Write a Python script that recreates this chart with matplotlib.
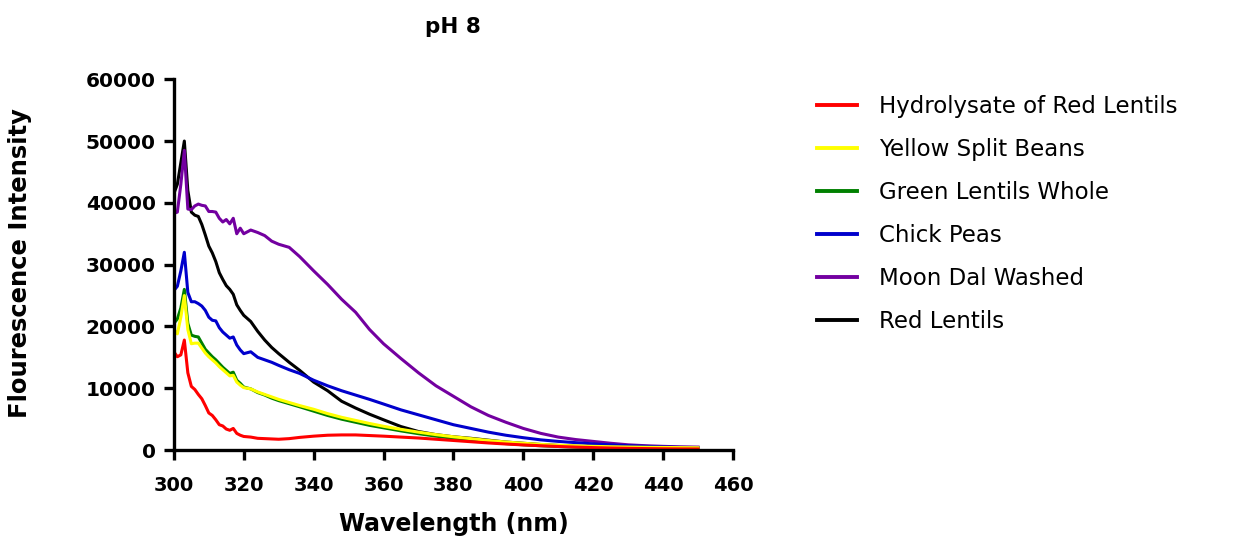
import matplotlib
matplotlib.use("Agg")
import matplotlib.pyplot as plt

plt.rcParams['font.family'] = ['DejaVu Sans']

wavelength = [300, 301, 302, 303, 304, 305, 306, 307, 308, 309, 310, 311, 312, 313, 314,
              315, 316, 317, 318, 319, 320, 322, 324, 326, 328, 330, 333, 336, 340, 344,
              348, 352, 356, 360, 365, 370, 375, 380, 385, 390, 395, 400, 405, 410, 415,
              420, 425, 430, 435, 440, 445, 450]

hydrolysate_red_lentils = [15900, 15100, 15400, 17800, 12500, 10300, 9800, 9000, 8300, 7200,
                           6000, 5600, 4900, 4100, 3900, 3400, 3200, 3500, 2700, 2400, 2200,
                           2100, 1900, 1850, 1800, 1750, 1850, 2050, 2250, 2400, 2450, 2450,
                           2350, 2250, 2100, 1950, 1750, 1550, 1350, 1150, 980, 830, 700, 580,
                           480, 400, 330, 280, 240, 210, 190, 180]
yellow_split_beans = [19500, 18800, 21500, 25000, 19500, 17200, 17300, 17300, 16500, 15700,
                      15100, 14600, 14100, 13500, 13000, 12500, 12000, 12100, 11000, 10500,
                      10100, 9900, 9400, 9000, 8600, 8200, 7700, 7200, 6600, 5900, 5300, 4800,
                      4300, 3850, 3350, 2900, 2500, 2150, 1850, 1550, 1300, 1100, 920, 780,
                      680, 600, 540, 490, 450, 420, 400, 380]
green_lentils_whole = [20500, 21200, 23000, 26000, 20500, 18600, 18400, 18300, 17300, 16300,
                       15700, 15100, 14600, 14000, 13400, 12900, 12400, 12600, 11300, 10800,
                       10200, 9900, 9300, 8900, 8400, 8000, 7500, 7000, 6300, 5600, 5000, 4500,
                       4000, 3600, 3100, 2650, 2250, 1900, 1600, 1300, 1050, 850, 700, 580,
                       480, 400, 340, 290, 250, 220, 200, 190]
chick_peas = [25800, 26500, 29000, 32000, 25500, 24000, 24000, 23700, 23300, 22600, 21500,
              21000, 20900, 19800, 19100, 18600, 18100, 18300, 17000, 16200, 15600, 15900,
              15000, 14600, 14200, 13700, 13000, 12400, 11300, 10400, 9600, 8900, 8200, 7450,
              6500, 5700, 4900, 4100, 3500, 2900, 2400, 2000, 1650, 1400, 1200, 1000, 850,
              700, 600, 500, 430, 400]
moon_dal_washed = [38300, 38500, 43000, 48500, 39000, 38900, 39500, 39800, 39600, 39500,
                   38600, 38600, 38500, 37500, 36900, 37300, 36600, 37500, 35000, 35900, 35000,
                   35600, 35200, 34700, 33800, 33300, 32800, 31300, 29000, 26800, 24400, 22300,
                   19500, 17200, 14800, 12500, 10400, 8700, 7000, 5600, 4500, 3500, 2700, 2100,
                   1700, 1400, 1100, 850, 700, 600, 520, 480]
red_lentils = [41500, 43000, 46500, 50000, 42000, 38500, 38000, 37800, 36500, 34800, 33000,
               31900, 30500, 28700, 27600, 26600, 26000, 25200, 23500, 22600, 21800, 20800,
               19200, 17800, 16600, 15600, 14200, 12900, 11000, 9600, 7900, 6800, 5800, 4900,
               3800, 3000, 2500, 2150, 1900, 1600, 1300, 1100, 900, 750, 620, 520, 450, 400,
               350, 320, 300, 280]

labels = ["Hydrolysate of Red Lentils", "Yellow Split Beans", "Green Lentils Whole",
          "Chick Peas", "Moon Dal Washed", "Red Lentils"]
series = [hydrolysate_red_lentils, yellow_split_beans, green_lentils_whole,
          chick_peas, moon_dal_washed, red_lentils]
colors = ["#FF0000", "#FFFF00", "#008000", "#0000CC", "#7300A0", "#000000"]

fig = plt.figure(figsize=(12.33, 5.39), dpi=100)
ax = fig.add_axes([0.141, 0.165, 0.4535, 0.688])

# draw back to front so red ends up on top, like the original
handles = {}
for lab, vals, col in reversed(list(zip(labels, series, colors))):
    line, = ax.plot(wavelength, vals, color=col, lw=2.2, label=lab)
    handles[lab] = line

ax.set_xlim(300, 460)
ax.set_ylim(0, 60000)
ax.set_xticks(range(300, 461, 20))
ax.set_yticks(range(0, 60001, 10000))

for s in ['top', 'right']:
    ax.spines[s].set_visible(False)
for s in ['left', 'bottom']:
    ax.spines[s].set_linewidth(2.4)
ax.tick_params(axis='both', width=2.4, length=7, direction='out')
ax.tick_params(axis='y', pad=6)
ax.tick_params(axis='x', pad=12)
for t in ax.get_yticklabels():
    t.set_fontweight('bold')
    t.set_fontsize(14.5)
for t in ax.get_xticklabels():
    t.set_fontweight('bold')
    t.set_fontsize(14)

ax.set_xlabel("Wavelength (nm)", fontsize=17, fontweight='bold', labelpad=12)
ax.set_ylabel("Flourescence Intensity", fontsize=17.5, fontweight='bold')
ax.yaxis.set_label_coords(-0.253, 0.505)
ax.set_title("pH 8", fontsize=15.5, fontweight='bold', pad=33)

leg = fig.legend([handles[l] for l in labels], labels, loc='upper left',
                 bbox_to_anchor=(0.6626, 0.824), frameon=False, fontsize=16.5,
                 handlelength=1.75, handletextpad=0.95, labelspacing=0.87,
                 borderpad=0, borderaxespad=0)
for h in leg.get_lines():
    h.set_linewidth(2.8)

fig.savefig("out.png", dpi=100)
